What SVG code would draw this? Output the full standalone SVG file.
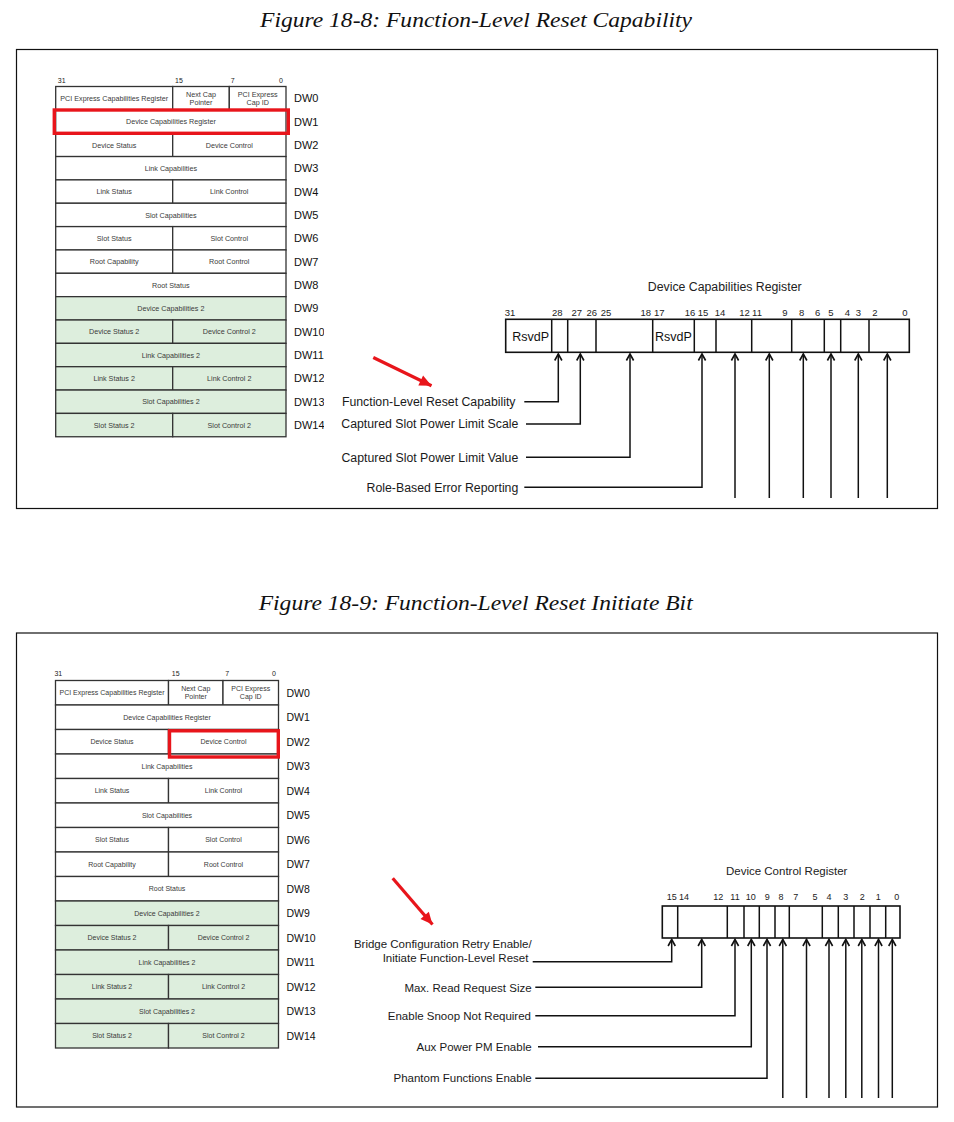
<svg xmlns="http://www.w3.org/2000/svg" width="954" height="1122" viewBox="0 0 954 1122">
<style>
.bg{fill:#fff}
.frame{fill:none;stroke:#111;stroke-width:1.2}
.title{font-family:"Liberation Serif","Times New Roman",serif;font-style:italic;font-size:22px;fill:#111;text-anchor:middle}
.cell{fill:#fff;stroke:#333;stroke-width:1.3}
.g2{fill:#ddeedd}
.ct{font-family:"Liberation Sans",Arial,sans-serif;font-size:7.2px;fill:#3a3a3a;text-anchor:middle}
.ctb{font-family:"Liberation Sans",Arial,sans-serif;font-size:7px;fill:#3a3a3a;text-anchor:middle}
.dw{font-family:"Liberation Sans",Arial,sans-serif;font-size:11px;fill:#111}
.dwb{font-family:"Liberation Sans",Arial,sans-serif;font-size:10.5px;fill:#111}
.bn{font-family:"Liberation Sans",Arial,sans-serif;font-size:7px;fill:#222;text-anchor:middle}
.hl{fill:none;stroke:#e8151b;stroke-width:3.4}
.reg{fill:#fff;stroke:#111;stroke-width:1.6}
.div{stroke:#111;stroke-width:1.5}
.rt{font-family:"Liberation Sans",Arial,sans-serif;font-size:12.3px;fill:#222;text-anchor:middle}
.rtb{font-family:"Liberation Sans",Arial,sans-serif;font-size:11.5px;fill:#222;text-anchor:middle}
.rb{font-family:"Liberation Sans",Arial,sans-serif;font-size:9.5px;fill:#222;text-anchor:middle}
.rbb{font-family:"Liberation Sans",Arial,sans-serif;font-size:9px;fill:#222;text-anchor:middle}
.rsv{font-family:"Liberation Sans",Arial,sans-serif;font-size:12.5px;fill:#111}
.lbl{font-family:"Liberation Sans",Arial,sans-serif;font-size:12.3px;fill:#1a1a1a;text-anchor:end}
.lblb{font-family:"Liberation Sans",Arial,sans-serif;font-size:11.5px;fill:#1a1a1a;text-anchor:end}
.conn{fill:none;stroke:#111;stroke-width:1.5;marker-end:url(#chev)}
.red{fill:none;stroke:#e8151b;stroke-width:3.2;marker-end:url(#redhead)}
</style>
<defs>
<marker id="chev" markerUnits="userSpaceOnUse" markerWidth="12" markerHeight="12" viewBox="-8 -6 10 12" refX="0" refY="0" orient="auto">
<path d="M-6.5,-3.6 L0,0 L-6.5,3.6" fill="none" stroke="#111" stroke-width="1.6"/>
</marker>
<marker id="redhead" markerUnits="userSpaceOnUse" markerWidth="16" markerHeight="14" viewBox="-13 -7 14 14" refX="0" refY="0" orient="auto">
<path d="M-12,-5.5 L0,0 L-12,5.5 Z" fill="#e8151b"/>
</marker>
<clipPath id="clipTop"><rect x="0" y="60" width="324" height="400"/></clipPath>
<clipPath id="clipBot"><rect x="0" y="660" width="316" height="400"/></clipPath>
</defs>
<rect class="bg" x="0" y="0" width="954" height="1122"/>

<!-- ================= Figure 18-8 ================= -->
<text class="title" x="476" y="26.5" textLength="432" lengthAdjust="spacingAndGlyphs">Figure 18-8: Function-Level Reset Capability</text>
<rect class="frame" x="16.5" y="49.5" width="921" height="459"/>

<g id="top-table">
<text class="bn" x="61.7" y="82.5">31</text>
<text class="bn" x="179" y="82.5">15</text>
<text class="bn" x="232.7" y="82.5">7</text>
<text class="bn" x="281" y="82.5">0</text>
<g id="t-dw0"><rect class="cell" x="55.7" y="86.5" width="117" height="23.35"/><rect class="cell" x="172.7" y="86.5" width="56.6" height="23.35"/><rect class="cell" x="229.3" y="86.5" width="56.7" height="23.35"/>
<text class="ct" x="114.2" y="100.8">PCI Express Capabilities Register</text>
<text class="ct" x="201" y="96.8">Next Cap</text><text class="ct" x="201" y="105">Pointer</text>
<text class="ct" x="257.7" y="96.8">PCI Express</text><text class="ct" x="257.7" y="105">Cap ID</text></g>
<g id="t-dw1"><rect class="cell" x="55.7" y="109.85" width="230.3" height="23.35"/><text class="ct" x="170.9" y="124.1">Device Capabilities Register</text></g>
<g id="t-dw2"><rect class="cell" x="55.7" y="133.2" width="117" height="23.35"/><rect class="cell" x="172.7" y="133.2" width="113.3" height="23.35"/><text class="ct" x="114.2" y="147.5">Device Status</text><text class="ct" x="229.3" y="147.5">Device Control</text></g>
<g id="t-dw3"><rect class="cell" x="55.7" y="156.55" width="230.3" height="23.35"/><text class="ct" x="170.9" y="170.8">Link Capabilities</text></g>
<g id="t-dw4"><rect class="cell" x="55.7" y="179.9" width="117" height="23.35"/><rect class="cell" x="172.7" y="179.9" width="113.3" height="23.35"/><text class="ct" x="114.2" y="194.2">Link Status</text><text class="ct" x="229.3" y="194.2">Link Control</text></g>
<g id="t-dw5"><rect class="cell" x="55.7" y="203.25" width="230.3" height="23.35"/><text class="ct" x="170.9" y="217.5">Slot Capabilities</text></g>
<g id="t-dw6"><rect class="cell" x="55.7" y="226.6" width="117" height="23.35"/><rect class="cell" x="172.7" y="226.6" width="113.3" height="23.35"/><text class="ct" x="114.2" y="240.9">Slot Status</text><text class="ct" x="229.3" y="240.9">Slot Control</text></g>
<g id="t-dw7"><rect class="cell" x="55.7" y="249.95" width="117" height="23.35"/><rect class="cell" x="172.7" y="249.95" width="113.3" height="23.35"/><text class="ct" x="114.2" y="264.2">Root Capability</text><text class="ct" x="229.3" y="264.2">Root Control</text></g>
<g id="t-dw8"><rect class="cell" x="55.7" y="273.3" width="230.3" height="23.35"/><text class="ct" x="170.9" y="287.6">Root Status</text></g>
<g id="t-dw9"><rect class="cell g2" x="55.7" y="296.65" width="230.3" height="23.35"/><text class="ct" x="170.9" y="310.9">Device Capabilities 2</text></g>
<g id="t-dw10"><rect class="cell g2" x="55.7" y="320" width="117" height="23.35"/><rect class="cell g2" x="172.7" y="320" width="113.3" height="23.35"/><text class="ct" x="114.2" y="334.3">Device Status 2</text><text class="ct" x="229.3" y="334.3">Device Control 2</text></g>
<g id="t-dw11"><rect class="cell g2" x="55.7" y="343.35" width="230.3" height="23.35"/><text class="ct" x="170.9" y="357.6">Link Capabilities 2</text></g>
<g id="t-dw12"><rect class="cell g2" x="55.7" y="366.7" width="117" height="23.35"/><rect class="cell g2" x="172.7" y="366.7" width="113.3" height="23.35"/><text class="ct" x="114.2" y="381">Link Status 2</text><text class="ct" x="229.3" y="381">Link Control 2</text></g>
<g id="t-dw13"><rect class="cell g2" x="55.7" y="390.05" width="230.3" height="23.35"/><text class="ct" x="170.9" y="404.3">Slot Capabilities 2</text></g>
<g id="t-dw14"><rect class="cell g2" x="55.7" y="413.4" width="117" height="23.35"/><rect class="cell g2" x="172.7" y="413.4" width="113.3" height="23.35"/><text class="ct" x="114.2" y="427.7">Slot Status 2</text><text class="ct" x="229.3" y="427.7">Slot Control 2</text></g>
<g id="t-dwlabels" clip-path="url(#clipTop)">
<text class="dw" x="294" y="102.2">DW0</text>
<text class="dw" x="294" y="125.5">DW1</text>
<text class="dw" x="294" y="148.9">DW2</text>
<text class="dw" x="294" y="172.2">DW3</text>
<text class="dw" x="294" y="195.6">DW4</text>
<text class="dw" x="294" y="218.9">DW5</text>
<text class="dw" x="294" y="242.3">DW6</text>
<text class="dw" x="294" y="265.6">DW7</text>
<text class="dw" x="294" y="289">DW8</text>
<text class="dw" x="294" y="312.3">DW9</text>
<text class="dw" x="294" y="335.7">DW10</text>
<text class="dw" x="294" y="359">DW11</text>
<text class="dw" x="294" y="382.4">DW12</text>
<text class="dw" x="294" y="405.7">DW13</text>
<text class="dw" x="294" y="429.1">DW14</text>
</g>
<rect id="t-highlight" class="hl" x="54.3" y="110" width="234" height="23.3"/>
</g>

<g id="top-register">
<text class="rt" x="724.7" y="291">Device Capabilities Register</text>
<text class="rb" x="510" y="315.7">31</text>
<text class="rb" x="557.3" y="315.7">28</text>
<text class="rb" x="576.7" y="315.7">27</text>
<text class="rb" x="591.7" y="315.7">26</text>
<text class="rb" x="606" y="315.7">25</text>
<text class="rb" x="645.7" y="315.7">18</text>
<text class="rb" x="659.3" y="315.7">17</text>
<text class="rb" x="690" y="315.7">16</text>
<text class="rb" x="703" y="315.7">15</text>
<text class="rb" x="720" y="315.7">14</text>
<text class="rb" x="744.5" y="315.7">12</text>
<text class="rb" x="757" y="315.7">11</text>
<text class="rb" x="785" y="315.7">9</text>
<text class="rb" x="801.7" y="315.7">8</text>
<text class="rb" x="817.7" y="315.7">6</text>
<text class="rb" x="831" y="315.7">5</text>
<text class="rb" x="847.5" y="315.7">4</text>
<text class="rb" x="858.3" y="315.7">3</text>
<text class="rb" x="875" y="315.7">2</text>
<text class="rb" x="905" y="315.7">0</text>
<rect class="reg" x="505.7" y="319.3" width="403.6" height="33"/>
<path class="div" d="M551.7,319.3V352.3M567.7,319.3V352.3M596,319.3V352.3M652.7,319.3V352.3M694.3,319.3V352.3M716,319.3V352.3M751.7,319.3V352.3M791.7,319.3V352.3M824.3,319.3V352.3M840.7,319.3V352.3M869,319.3V352.3"/>
<text class="rsv" x="512.3" y="340.5">RsvdP</text>
<text class="rsv" x="655" y="340.5">RsvdP</text>
</g>

<g id="top-labels">
<text class="lbl" x="515.5" y="405.8">Function-Level Reset Capability</text>
<text class="lbl" x="518.3" y="428.2">Captured Slot Power Limit Scale</text>
<text class="lbl" x="518.3" y="461.5">Captured Slot Power Limit Value</text>
<text class="lbl" x="518.3" y="491.5">Role-Based Error Reporting</text>
</g>

<g id="top-connectors">
<path class="conn" d="M524.3,401.7H558.3V354"/>
<path class="conn" d="M526,424H580.3V354"/>
<path class="conn" d="M526,457.3H630V354"/>
<path class="conn" d="M524.3,487.3H702V354"/>
<path class="conn" d="M735,498V354"/>
<path class="conn" d="M769.3,498V354"/>
<path class="conn" d="M803.3,498V354"/>
<path class="conn" d="M831,498V354"/>
<path class="conn" d="M858.3,498V354"/>
<path class="conn" d="M887.3,498V354"/>
<path class="red" d="M373.3,357.5L431.5,385.8"/>
</g>

<!-- ================= Figure 18-9 ================= -->
<text class="title" x="475.7" y="610" textLength="434" lengthAdjust="spacingAndGlyphs">Figure 18-9: Function-Level Reset Initiate Bit</text>
<rect class="frame" x="16.5" y="633" width="921" height="474"/>

<g id="bot-table">
<text class="bn" x="58.3" y="676">31</text>
<text class="bn" x="175.7" y="676">15</text>
<text class="bn" x="227.3" y="676">7</text>
<text class="bn" x="274" y="676">0</text>
<g id="b-dw0"><rect class="cell" x="55.5" y="680.5" width="113" height="24.5"/><rect class="cell" x="168.5" y="680.5" width="54.5" height="24.5"/><rect class="cell" x="223" y="680.5" width="55.5" height="24.5"/>
<text class="ctb" x="112" y="695.3">PCI Express Capabilities Register</text>
<text class="ctb" x="195.75" y="690.8">Next Cap</text><text class="ctb" x="195.75" y="699.2">Pointer</text>
<text class="ctb" x="250.75" y="690.8">PCI Express</text><text class="ctb" x="250.75" y="699.2">Cap ID</text></g>
<g id="b-dw1"><rect class="cell" x="55.5" y="705" width="223" height="24.5"/><text class="ctb" x="167" y="719.8">Device Capabilities Register</text></g>
<g id="b-dw2"><rect class="cell" x="55.5" y="729.5" width="113" height="24.5"/><rect class="cell" x="168.5" y="729.5" width="110" height="24.5"/><text class="ctb" x="112" y="744.3">Device Status</text><text class="ctb" x="223.5" y="744.3">Device Control</text></g>
<g id="b-dw3"><rect class="cell" x="55.5" y="754" width="223" height="24.5"/><text class="ctb" x="167" y="768.8">Link Capabilities</text></g>
<g id="b-dw4"><rect class="cell" x="55.5" y="778.5" width="113" height="24.5"/><rect class="cell" x="168.5" y="778.5" width="110" height="24.5"/><text class="ctb" x="112" y="793.3">Link Status</text><text class="ctb" x="223.5" y="793.3">Link Control</text></g>
<g id="b-dw5"><rect class="cell" x="55.5" y="803" width="223" height="24.5"/><text class="ctb" x="167" y="817.8">Slot Capabilities</text></g>
<g id="b-dw6"><rect class="cell" x="55.5" y="827.5" width="113" height="24.5"/><rect class="cell" x="168.5" y="827.5" width="110" height="24.5"/><text class="ctb" x="112" y="842.3">Slot Status</text><text class="ctb" x="223.5" y="842.3">Slot Control</text></g>
<g id="b-dw7"><rect class="cell" x="55.5" y="852" width="113" height="24.5"/><rect class="cell" x="168.5" y="852" width="110" height="24.5"/><text class="ctb" x="112" y="866.8">Root Capability</text><text class="ctb" x="223.5" y="866.8">Root Control</text></g>
<g id="b-dw8"><rect class="cell" x="55.5" y="876.5" width="223" height="24.5"/><text class="ctb" x="167" y="891.3">Root Status</text></g>
<g id="b-dw9"><rect class="cell g2" x="55.5" y="901" width="223" height="24.5"/><text class="ctb" x="167" y="915.8">Device Capabilities 2</text></g>
<g id="b-dw10"><rect class="cell g2" x="55.5" y="925.5" width="113" height="24.5"/><rect class="cell g2" x="168.5" y="925.5" width="110" height="24.5"/><text class="ctb" x="112" y="940.3">Device Status 2</text><text class="ctb" x="223.5" y="940.3">Device Control 2</text></g>
<g id="b-dw11"><rect class="cell g2" x="55.5" y="950" width="223" height="24.5"/><text class="ctb" x="167" y="964.8">Link Capabilities 2</text></g>
<g id="b-dw12"><rect class="cell g2" x="55.5" y="974.5" width="113" height="24.5"/><rect class="cell g2" x="168.5" y="974.5" width="110" height="24.5"/><text class="ctb" x="112" y="989.3">Link Status 2</text><text class="ctb" x="223.5" y="989.3">Link Control 2</text></g>
<g id="b-dw13"><rect class="cell g2" x="55.5" y="999" width="223" height="24.5"/><text class="ctb" x="167" y="1013.8">Slot Capabilities 2</text></g>
<g id="b-dw14"><rect class="cell g2" x="55.5" y="1023.5" width="113" height="24.5"/><rect class="cell g2" x="168.5" y="1023.5" width="110" height="24.5"/><text class="ctb" x="112" y="1038.3">Slot Status 2</text><text class="ctb" x="223.5" y="1038.3">Slot Control 2</text></g>
<g id="b-dwlabels" clip-path="url(#clipBot)">
<text class="dwb" x="286.5" y="696.5">DW0</text>
<text class="dwb" x="286.5" y="721">DW1</text>
<text class="dwb" x="286.5" y="745.5">DW2</text>
<text class="dwb" x="286.5" y="770">DW3</text>
<text class="dwb" x="286.5" y="794.5">DW4</text>
<text class="dwb" x="286.5" y="819">DW5</text>
<text class="dwb" x="286.5" y="843.5">DW6</text>
<text class="dwb" x="286.5" y="868">DW7</text>
<text class="dwb" x="286.5" y="892.5">DW8</text>
<text class="dwb" x="286.5" y="917">DW9</text>
<text class="dwb" x="286.5" y="941.5">DW10</text>
<text class="dwb" x="286.5" y="966">DW11</text>
<text class="dwb" x="286.5" y="990.5">DW12</text>
<text class="dwb" x="286.5" y="1015">DW13</text>
<text class="dwb" x="286.5" y="1039.5">DW14</text>
</g>
<rect id="b-highlight" class="hl" x="169.5" y="730.8" width="108.8" height="26.2"/>
</g>

<g id="bot-register">
<text class="rtb" x="786.7" y="875">Device Control Register</text>
<text class="rbb" x="671.7" y="900">15</text>
<text class="rbb" x="684" y="900">14</text>
<text class="rbb" x="718.3" y="900">12</text>
<text class="rbb" x="735" y="900">11</text>
<text class="rbb" x="750.7" y="900">10</text>
<text class="rbb" x="767.3" y="900">9</text>
<text class="rbb" x="781" y="900">8</text>
<text class="rbb" x="795.7" y="900">7</text>
<text class="rbb" x="815" y="900">5</text>
<text class="rbb" x="829" y="900">4</text>
<text class="rbb" x="845.7" y="900">3</text>
<text class="rbb" x="862.3" y="900">2</text>
<text class="rbb" x="878.3" y="900">1</text>
<text class="rbb" x="896.7" y="900">0</text>
<rect class="reg" x="662.3" y="906" width="237.7" height="32"/>
<path class="div" d="M677.7,906V938M727.3,906V938M744,906V938M759.3,906V938M775,906V938M789.3,906V938M822.3,906V938M838.3,906V938M854,906V938M870,906V938M885.7,906V938"/>
</g>

<g id="bot-labels">
<text class="lblb" x="531.6" y="947.5">Bridge Configuration Retry Enable/</text>
<text class="lblb" x="528.4" y="961.5">Initiate Function-Level Reset</text>
<text class="lblb" x="531.6" y="991.5">Max. Read Request Size</text>
<text class="lblb" x="531" y="1019.8">Enable Snoop Not Required</text>
<text class="lblb" x="531.6" y="1050.8">Aux Power PM Enable</text>
<text class="lblb" x="531.6" y="1082.4">Phantom Functions Enable</text>
</g>

<g id="bot-connectors">
<path class="conn" d="M532.7,961.7H671.7V939.5"/>
<path class="conn" d="M535.3,987.3H701.7V939.5"/>
<path class="conn" d="M535.3,1015.7H735V939.5"/>
<path class="conn" d="M538,1046.7H751.3V939.5"/>
<path class="conn" d="M535.3,1078.3H767V939.5"/>
<path class="conn" d="M782.8,1098V939.5"/>
<path class="conn" d="M806.5,1098V939.5"/>
<path class="conn" d="M829,1098V939.5"/>
<path class="conn" d="M845.8,1098V939.5"/>
<path class="conn" d="M861.8,1098V939.5"/>
<path class="conn" d="M878.5,1098V939.5"/>
<path class="conn" d="M892.3,1098V939.5"/>
<path class="red" d="M392.7,878.3L432.5,924.5"/>
</g>
</svg>
